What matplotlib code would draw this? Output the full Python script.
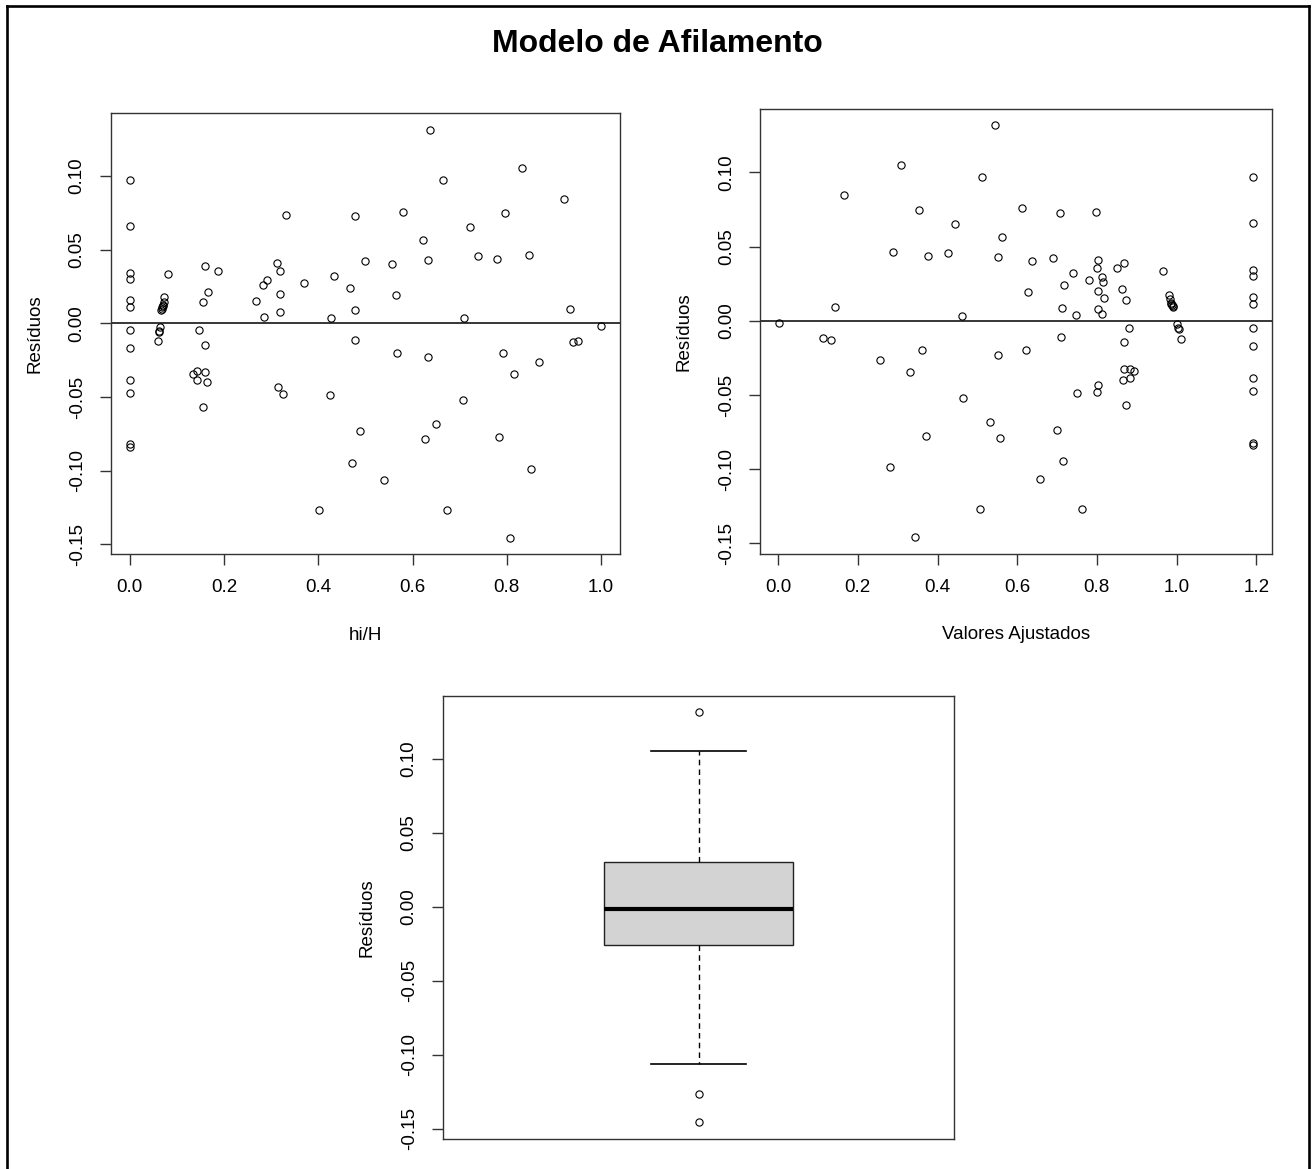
import numpy as np
import matplotlib
matplotlib.use("Agg")
import matplotlib.pyplot as plt
from matplotlib.lines import Line2D

# ---- data ----
hi_H = [
    0, 0, 0, 0, 0, 0, 0, 0, 0, 0, 0, 0,
    0.082, 0.072, 0.073, 0.071, 0.070, 0.069, 0.068, 0.067, 0.065, 0.062, 0.062, 0.060,
    0.159, 0.187, 0.167, 0.156, 0.147, 0.159, 0.134, 0.142, 0.142, 0.160, 0.165, 0.156,
    0.268, 0.282, 0.291, 0.286, 0.313, 0.320, 0.318, 0.318, 0.332, 0.370, 0.315, 0.325,
    0.402, 0.424, 0.427, 0.434, 0.468, 0.477, 0.479, 0.477, 0.4985, 0.489, 0.471,
    0.638, 0.832, 0.665, 0.922, 0.579, 0.796, 0.722, 0.622, 0.739, 0.779, 0.846, 0.633,
    0.556, 0.565, 0.710, 0.935, 0.940, 0.951, 0.568, 0.633, 0.791, 0.869, 0.815,
    0.707, 0.650, 0.627, 0.784, 0.851, 0.539, 0.673, 0.806,
    1.0, 1.0, 1.0, 1.0, 1.0, 1.0, 1.0, 1.0, 1.0, 1.0, 1.0, 1.0,
]
fitted = [
    1.192, 1.192, 1.192, 1.192, 1.192, 1.192, 1.192, 1.192, 1.192, 1.192, 1.192, 1.192,
    0.966, 0.981, 0.983, 0.986, 0.987, 0.988, 0.990, 0.991, 1.002, 1.004, 1.006, 1.0105,
    0.869, 0.850, 0.8625, 0.872, 0.880, 0.868, 0.892, 0.883, 0.883, 0.868, 0.866, 0.872,
    0.819, 0.816, 0.812, 0.813, 0.803, 0.800, 0.803, 0.803, 0.797, 0.779, 0.803, 0.800,
    0.762, 0.750, 0.748, 0.740, 0.718, 0.712, 0.708, 0.711, 0.690, 0.700, 0.7145,
    0.545, 0.3085, 0.5125, 0.1656, 0.611, 0.3545, 0.444, 0.5627, 0.4264, 0.376, 0.2876, 0.551,
    0.6376, 0.626, 0.4624, 0.142, 0.1338, 0.112, 0.6226, 0.552, 0.362, 0.2567, 0.332,
    0.465, 0.531, 0.557, 0.370, 0.2818, 0.656, 0.5067, 0.3436,
    0.002, 0.002, 0.002, 0.002, 0.002, 0.002, 0.002, 0.002, 0.002, 0.002, 0.002, 0.002,
]
residuals = [
    0.0972, 0.0660, 0.0339, 0.0303, 0.0158, 0.0111, -0.0047, -0.0167, -0.0382, -0.0470, -0.0820, -0.0840,
    0.0335, 0.0176, 0.0147, 0.0122, 0.0115, 0.0108, 0.0098, 0.0090, -0.0022, -0.0049, -0.0057, -0.0120,
    0.0390, 0.0357, 0.0215, 0.0143, -0.0048, -0.0145, -0.0341, -0.0324, -0.0382, -0.0328, -0.0400, -0.0565,
    0.0152, 0.0262, 0.0296, 0.0045, 0.0408, 0.0358, 0.0201, 0.0080, 0.0733, 0.0272, -0.0430, -0.0478,
    -0.1266, -0.0486, 0.0038, 0.0319, 0.0240, 0.0088, 0.0726, -0.0111, 0.0423, -0.0733, -0.0946,
    0.1316, 0.1052, 0.0972, 0.0846, 0.0758, 0.0749, 0.0655, 0.0565, 0.0455, 0.0439, 0.0464, 0.0430,
    0.0400, 0.0192, 0.0033, 0.0096, -0.0126, -0.0119, -0.0199, -0.0230, -0.0200, -0.0262, -0.0342,
    -0.0518, -0.0685, -0.0789, -0.0773, -0.0988, -0.1067, -0.1266, -0.1458,
    -0.0017, -0.0017, -0.0017, -0.0017, -0.0017, -0.0017, -0.0017, -0.0017, -0.0017, -0.0017, -0.0017, -0.0017,
]

title = "Modelo de Afilamento"
ylabel = "Resíduos"
xlabel1 = "hi/H"
xlabel2 = "Valores Ajustados"
yticks = [-0.15, -0.10, -0.05, 0.00, 0.05, 0.10]
yticklabels = ["-0.15", "-0.10", "-0.05", "0.00", "0.05", "0.10"]
xticks1 = [0.0, 0.2, 0.4, 0.6, 0.8, 1.0]
xticklabels1 = ["0.0", "0.2", "0.4", "0.6", "0.8", "1.0"]
xticks2 = [0.0, 0.2, 0.4, 0.6, 0.8, 1.0, 1.2]
xticklabels2 = ["0.0", "0.2", "0.4", "0.6", "0.8", "1.0", "1.2"]

plt.rcParams['font.family'] = ['Liberation Sans', 'DejaVu Sans']

W, H = 1314, 1169
fig = plt.figure(figsize=(W / 100, H / 100), dpi=100)
fig.patch.set_facecolor('white')

def rect(l, r, t, b):
    return [l / W, (H - b) / H, (r - l) / W, (b - t) / H]

def rpad(vals):
    lo, hi = min(vals), max(vals)
    d = (hi - lo) * 0.04
    return lo - d, hi + d

FS = 13.5
tick_len = 8

def style(ax):
    for s in ax.spines.values():
        s.set_linewidth(1.0)
        s.set_color('#333333')
    ax.tick_params(direction='out', length=tick_len, width=1.0, color='#333333',
                   labelsize=FS, pad=10)
    ax.set_yticks(yticks)
    ax.set_yticklabels(yticklabels, rotation=90, va='center')

ms = 5.2
mew = 0.8

def scatter(ax, x, y):
    # draw each distinct point once so exact duplicates do not look bold
    pts = sorted(set(zip(x, y)))
    px = [p[0] for p in pts]
    py = [p[1] for p in pts]
    ax.plot(px, py, 'o', mfc='none', mec='black', ms=ms, mew=mew, ls='none')

# plot 1
ax1 = fig.add_axes(rect(110.7, 620, 113.3, 554.3))
scatter(ax1, hi_H, residuals)
ax1.axhline(0, color='black', lw=1.1)
ax1.set_xlim(*rpad(hi_H))
ax1.set_ylim(*rpad(residuals))
style(ax1)
ax1.set_xticks(xticks1)
ax1.set_xticklabels(xticklabels1)
ax1.set_xlabel(xlabel1, fontsize=FS, labelpad=22)
ax1.set_ylabel(ylabel, fontsize=FS, labelpad=18)

# plot 2
ax2 = fig.add_axes(rect(760, 1272, 109, 553.7))
scatter(ax2, fitted, residuals)
ax2.axhline(0, color='black', lw=1.1)
ax2.set_xlim(*rpad(fitted))
ax2.set_ylim(*rpad(residuals))
style(ax2)
ax2.set_xticks(xticks2)
ax2.set_xticklabels(xticklabels2)
ax2.set_xlabel(xlabel2, fontsize=FS, labelpad=22)
ax2.set_ylabel(ylabel, fontsize=FS, labelpad=18)

# plot 3 : boxplot with Tukey hinges (like R)
def fivenum(v):
    x = np.sort(np.asarray(v, dtype=float))
    n = len(x)
    n4 = np.floor((n + 3) / 2) / 2
    d = np.array([1, n4, (n + 1) / 2, n + 1 - n4, n]) - 1
    return 0.5 * (x[np.floor(d).astype(int)] + x[np.ceil(d).astype(int)])

arr = np.asarray(residuals)
mn, q1, med, q3, mx = fivenum(arr)
iqr = q3 - q1
lo_lim, hi_lim = q1 - 1.5 * iqr, q3 + 1.5 * iqr
whislo = arr[arr >= lo_lim].min()
whishi = arr[arr <= hi_lim].max()
fliers = np.unique(arr[(arr < lo_lim) | (arr > hi_lim)])
stats = [dict(med=med, q1=q1, q3=q3, whislo=whislo, whishi=whishi, fliers=fliers)]

ax3 = fig.add_axes(rect(442.7, 954.3, 695.7, 1138.7))
ax3.bxp(stats, positions=[1], widths=0.4, patch_artist=True, showcaps=True,
        boxprops=dict(facecolor='#D3D3D3', edgecolor='#222222', lw=1.0),
        medianprops=dict(color='black', lw=3.0, solid_capstyle='butt'),
        whiskerprops=dict(color='black', lw=1.0, ls=(0, (4, 3))),
        capprops=dict(color='black', lw=1.2),
        flierprops=dict(marker='o', mfc='none', mec='black', ms=ms, mew=mew),
        capwidths=0.2)
ax3.set_xlim(0.46, 1.54)
ax3.set_ylim(*rpad(residuals))
style(ax3)
ax3.set_xticks([])
ax3.set_ylabel(ylabel, fontsize=FS, labelpad=18)

# title
fig.text(657 / W, 1 - 44 / H, title, ha='center', va='center', fontsize=23, fontweight='bold')

# outer frame (bottom edge lies outside the picture)
lw_frame = 1.9
fig.add_artist(Line2D([7 / W, 7 / W], [0, 1 - 6 / H], color='black', lw=lw_frame, transform=fig.transFigure))
fig.add_artist(Line2D([1309 / W, 1309 / W], [0, 1 - 6 / H], color='black', lw=lw_frame, transform=fig.transFigure))
fig.add_artist(Line2D([7 / W, 1309 / W], [1 - 6 / H, 1 - 6 / H], color='black', lw=lw_frame, transform=fig.transFigure))

fig.savefig('out.png', dpi=100, facecolor='white')
